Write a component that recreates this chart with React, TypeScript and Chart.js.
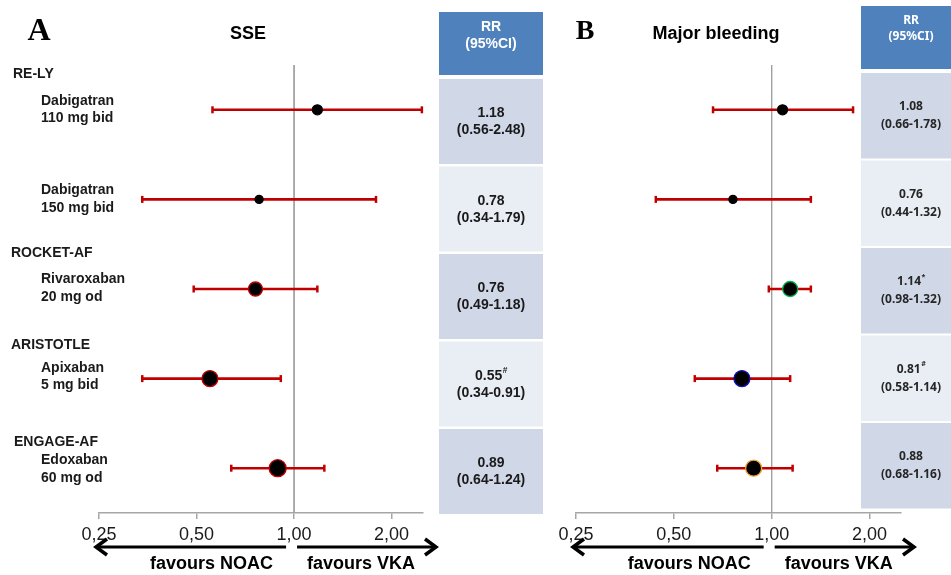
import React, { useEffect, useRef } from "react";
import { Chart, registerables } from "chart.js";
Chart.register(...registerables);

// ---------- data ----------
const trials = ["RE-LY", "", "ROCKET-AF", "ARISTOTLE", "ENGAGE-AF"];
const drugs = ["Dabigatran", "Dabigatran", "Rivaroxaban", "Apixaban", "Edoxaban"];
const doses = ["110 mg bid", "150 mg bid", "20 mg od", "5 mg bid", "60 mg od"];

const sseRR = [1.18, 0.78, 0.76, 0.55, 0.89];
const sseLo = [0.56, 0.34, 0.49, 0.34, 0.64];
const sseHi = [2.48, 1.79, 1.18, 0.91, 1.24];
const sseMarks = ["", "", "", "#", ""];

const bleedRR = [1.08, 0.76, 1.14, 0.81, 0.88];
const bleedLo = [0.66, 0.44, 0.98, 0.58, 0.68];
const bleedHi = [1.78, 1.32, 1.32, 1.14, 1.16];
const bleedMarks = ["", "", "*", "#", ""];

const xTicks = [0.25, 0.5, 1, 2];
const xMin = 0.25;
const xMax = 2.5;

// ---------- styles ----------
const SANS = "'Liberation Sans', Arial, sans-serif";
const SERIF = "'Liberation Serif', 'Times New Roman', serif";
const CAL = "'Noto Sans', 'Open Sans', sans-serif";
const RED = "#C00000";
const AXIS_GRAY = "#A6A6A6";
const HEAD_BLUE = "#4F81BD";
const ROW_DARK = "#D0D8E8";
const ROW_LIGHT = "#E9EDF4";

type PanelCfg = {
  letter: string;
  letterSize: number;
  letterX: number;
  title: string;
  titleX: number;
  rr: number[];
  lo: number[];
  hi: number[];
  marks: string[];
  radii: number[];
  borders: string[];
  showLabels: boolean;
  left: number;
  width: number;
  padLeft: number;
  padRight: number;
  table: {
    x: number; w: number; headTop: number; headBot: number;
    rowTop: number; pitch: number; rowH: number;
    font: string; headFont: string; valSize: number; headSize: number;
    rrY: number; ciY: number; headY1: number; headY2: number; color: string;
  };
};

const panels: PanelCfg[] = [
  {
    letter: "A", letterSize: 32, letterX: 39, title: "SSE", titleX: 248,
    rr: sseRR, lo: sseLo, hi: sseHi, marks: sseMarks,
    radii: [5, 4, 7, 8, 8.5],
    borders: ["#000", "#000", RED, RED, RED],
    showLabels: true, left: 0, width: 560, padLeft: 99, padRight: 137,
    table: {
      x: 439, w: 104, headTop: 12, headBot: 75, rowTop: 79, pitch: 87.5, rowH: 85,
      font: SANS, headFont: SANS, valSize: 14, headSize: 14,
      rrY: -8, ciY: 9, headY1: 27, headY2: 44, color: "#1a1a1a",
    },
  },
  {
    letter: "B", letterSize: 28, letterX: 110, title: "Major bleeding", titleX: 241,
    rr: bleedRR, lo: bleedLo, hi: bleedHi, marks: bleedMarks,
    radii: [5, 4, 7.5, 8, 8],
    borders: ["#000", "#000", "#00B050", "#1010C0", "#F0A030"],
    showLabels: false, left: 475, width: 476, padLeft: 101, padRight: 50,
    table: {
      x: 386, w: 100, headTop: 6, headBot: 69, rowTop: 73, pitch: 87.5, rowH: 85.5,
      font: CAL, headFont: CAL, valSize: 12, headSize: 12,
      rrY: -9, ciY: 9, headY1: 21, headY2: 37, color: "#262626",
    },
  },
];

const trialDY = [-36, 0, -36, -33, -26];
const drugDY = [-9, -9, -10, -10, -8];
const doseDY = [8, 9, 8, 7, 10];

function makePlugin(p: PanelCfg) {
  return {
    id: "forestDecor" + p.letter,
    afterDraw(chart: any) {
      const ctx = chart.ctx as CanvasRenderingContext2D;
      const xs = chart.scales.x;
      const ys = chart.scales.y;
      const area = chart.chartArea;
      ctx.save();

      // panel letter + title
      ctx.fillStyle = "#000";
      ctx.textAlign = "center";
      ctx.textBaseline = "middle";
      ctx.font = `bold ${p.letterSize}px ${SERIF}`;
      ctx.fillText(p.letter, p.letterX, 32);
      ctx.font = `bold 18px ${SANS}`;
      ctx.fillText(p.title, p.titleX, 34);

      // left labels
      if (p.showLabels) {
        ctx.textAlign = "left";
        ctx.font = `bold 14px ${SANS}`;
        ctx.fillStyle = "#1a1a1a";
        trials.forEach((t, i) => {
          const y = ys.getPixelForValue(i);
          if (t) ctx.fillText(t, i === 4 ? 14 : (i === 0 ? 13 : 11), y + trialDY[i]);
          ctx.fillText(drugs[i], 41, y + drugDY[i]);
          ctx.fillText(doses[i], 41, y + doseDY[i]);
        });
      }

      // table
      const T = p.table;
      ctx.fillStyle = HEAD_BLUE;
      ctx.fillRect(T.x, T.headTop, T.w, T.headBot - T.headTop);
      ctx.fillStyle = "#fff";
      ctx.textAlign = "center";
      ctx.font = `bold ${T.headSize}px ${T.headFont}`;
      const cx = T.x + T.w / 2;
      ctx.fillText("RR", cx, T.headY1);
      ctx.fillText("(95%CI)", cx, T.headY2);
      p.rr.forEach((v, i) => {
        const top = T.rowTop + T.pitch * i;
        ctx.fillStyle = i % 2 === 0 ? ROW_DARK : ROW_LIGHT;
        ctx.fillRect(T.x, top, T.w, T.rowH);
        const cy = top + T.rowH / 2;
        ctx.fillStyle = T.color;
        ctx.font = `bold ${T.valSize}px ${T.font}`;
        const s = v.toFixed(2);
        const mark = p.marks[i];
        if (mark) {
          const w = ctx.measureText(s).width;
          ctx.font = `bold ${T.valSize * 0.6}px ${T.font}`;
          const mw = ctx.measureText(mark).width;
          ctx.textAlign = "left";
          ctx.fillText(mark, cx + (w - mw) / 2 + 0.5, cy + T.rrY - 5);
          ctx.font = `bold ${T.valSize}px ${T.font}`;
          ctx.textAlign = "center";
          ctx.fillText(s, cx - mw / 2, cy + T.rrY);
        } else {
          ctx.fillText(s, cx, cy + T.rrY);
        }
        ctx.fillText(`(${p.lo[i].toFixed(2)}-${p.hi[i].toFixed(2)})`, cx, cy + T.ciY);
      });

      // arrows
      const one = xs.getPixelForValue(1);
      const x0 = xs.getPixelForValue(xMin) - 3;
      const ay = 547;
      ctx.strokeStyle = "#000";
      ctx.lineWidth = 3;
      ctx.lineCap = "butt";
      ctx.beginPath();
      ctx.moveTo(x0 + 1, ay);
      ctx.lineTo(one - 8, ay);
      ctx.moveTo(one + 3, ay);
      ctx.lineTo(area.right + 11, ay);
      ctx.stroke();
      ctx.lineWidth = 3.5;
      ctx.lineJoin = "miter";
      ctx.beginPath();
      ctx.moveTo(x0 + 11, ay - 8);
      ctx.lineTo(x0, ay);
      ctx.lineTo(x0 + 11, ay + 8);
      ctx.moveTo(area.right + 2, ay - 8);
      ctx.lineTo(area.right + 13, ay);
      ctx.lineTo(area.right + 2, ay + 8);
      ctx.stroke();

      ctx.fillStyle = "#000";
      ctx.textAlign = "center";
      ctx.font = `bold 18px ${SANS}`;
      ctx.fillText("favours NOAC", one - 82.5, 564);
      ctx.fillText("favours VKA", one + 67, 564);
      ctx.restore();
    },
  };
}

function ForestPanel({ p }: { p: PanelCfg }) {
  const ref = useRef<HTMLCanvasElement>(null);
  useEffect(() => {
    const canvas = ref.current!;
    const datasets: any[] = [];
    datasets.push({
      label: "RR",
      data: p.rr.map((v, i) => ({ x: v, y: i })),
      pointRadius: p.radii,
      pointBackgroundColor: "#000",
      pointBorderColor: p.borders,
      pointBorderWidth: 1.3,
      showLine: false,
      order: 0,
      clip: false,
    });
    p.rr.forEach((_, i) => {
      datasets.push({
        label: "CI" + i,
        data: [
          { x: p.lo[i], y: i },
          { x: p.hi[i], y: i },
        ],
        showLine: true,
        borderColor: RED,
        borderWidth: 2.6,
        pointStyle: "line",
        rotation: 90,
        pointRadius: 3.5,
        pointBorderColor: RED,
        pointBorderWidth: 2.5,
        order: 1,
        clip: false,
      });
    });
    datasets.push({
      label: "ref",
      data: [
        { x: 1, y: -0.5 },
        { x: 1, y: 4.5 },
      ],
      showLine: true,
      borderColor: "#A0A0A0",
      borderWidth: 1,
      pointRadius: 0,
      order: 2,
      clip: false,
    });

    const chart = new Chart(canvas, {
      type: "scatter",
      data: { datasets },
      options: {
        responsive: false,
        animation: false,
        events: [],
        layout: { padding: { left: p.padLeft, right: p.padRight, top: 65, bottom: 0 } },
        plugins: { legend: { display: false }, tooltip: { enabled: false } },
        scales: {
          x: {
            type: "logarithmic",
            min: xMin,
            max: xMax,
            afterBuildTicks: (s: any) => {
              s.ticks = xTicks.map((v) => ({ value: v }));
            },
            afterFit: (s: any) => {
              s.height = 62;
            },
            grid: { drawOnChartArea: false, drawTicks: true, tickLength: 6, color: AXIS_GRAY, lineWidth: 1.5 },
            border: { display: true, color: AXIS_GRAY, width: 1.5 },
            ticks: {
              autoSkip: false,
              maxRotation: 0,
              padding: 5,
              color: "#1a1a1a",
              font: { family: SANS, size: 18 },
              callback: (v: any) => Number(v).toFixed(2).replace(".", ","),
            },
          },
          y: { type: "linear", min: -0.5, max: 4.5, reverse: true, display: false },
        },
      },
      plugins: [makePlugin(p)],
    } as any);
    return () => chart.destroy();
  }, []);
  return (
    <canvas
      ref={ref}
      width={p.width}
      height={575}
      style={{ position: "absolute", left: p.left, top: 0, width: p.width, height: 575 }}
    />
  );
}

export default function App() {
  return (
    <div style={{ position: "absolute", left: 0, top: 0, width: 951, height: 575, background: "#fff", overflow: "hidden" }}>
      {panels.map((p) => (
        <ForestPanel key={p.letter} p={p} />
      ))}
    </div>
  );
}
